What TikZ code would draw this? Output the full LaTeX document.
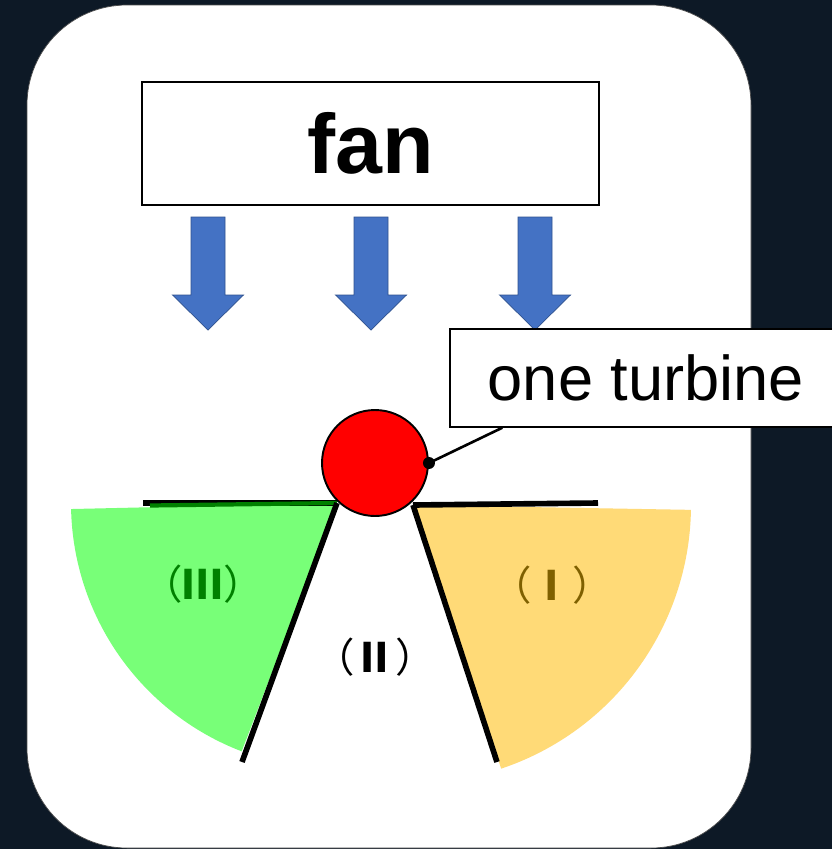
\documentclass[tikz,border=0pt]{standalone}
\usepackage{fontspec}
\setmainfont{Liberation Sans}
\newfontfamily\cjk{Noto Sans CJK JP}
\usetikzlibrary{positioning,calc}
\definecolor{NightBg}{RGB}{13,25,38}
\definecolor{FanBlue}{RGB}{68,114,196}
\definecolor{FanBlueEdge}{RGB}{47,82,143}
\definecolor{ZoneGreen}{RGB}{120,255,120}
\definecolor{ZoneGreenDark}{RGB}{0,128,0}
\definecolor{ZoneGold}{RGB}{255,218,119}
\definecolor{ZoneGoldDark}{RGB}{127,96,0}
\definecolor{TurbineRed}{RGB}{255,0,0}
\newcommand\zonenum[1]{（{\bfseries #1}）}
\tikzset{
  wall/.style={line width=3.2pt,draw=black},
  labelbox/.style={draw=black,fill=white,line width=0.8pt,inner sep=0pt},
  zonelabel/.style={font=\cjk\fontsize{23}{23}\selectfont},
  windarrow/.pic={\path[fill=FanBlue,draw=FanBlueEdge,line width=0.4pt]
    (-17,0) -- (-17,78) -- (-35.5,78) -- (0,113) -- (35.5,78) -- (17,78) -- (17,0) -- cycle;}
}
\begin{document}
\begin{tikzpicture}[x=0.02cm,y=-0.02cm]
  \fill[NightBg] (0,0) rectangle (832,849);
  \useasboundingbox (0,0) rectangle (832,849);
  \draw[fill=white,draw=gray!60!black,rounded corners=2cm] (27,5) rectangle (751,848);
  % fan and air flow
  \node[labelbox,line width=1.1pt,minimum width=9.14cm,minimum height=2.46cm,
    font=\fontsize{48}{48}\selectfont\bfseries] (fan) at (370.5,143.5) {fan};
  \pic at (208,217) {windarrow};
  \pic at (371,217) {windarrow};
  \pic at (535,217) {windarrow};
  % zones behind the turbine
  \coordinate (pivL) at (337,503);
  \coordinate (pivR) at (413,505);
  \fill[ZoneGreen] (pivL) -- ++(178.7:266) arc[start angle=178.7,end angle=111,radius=266] -- cycle;
  \fill[ZoneGold] (pivR) -- ++(1:278) arc[start angle=1,end angle=71.5,radius=278] -- cycle;
  \draw[wall] (143,503) -- (pivL);
  \draw[ZoneGreenDark,line width=2.4pt] (150,505.5) -- (pivL);
  \draw[wall] (pivL) -- (242,762);
  \draw[wall] (pivR) -- (598,503);
  \draw[wall] (pivR) -- (497,762);
  \node[zonelabel,text=ZoneGreenDark] (zone3) at (203,584) {\zonenum{Ⅲ}};
  \node[zonelabel] (zone2) at (375,657) {\zonenum{Ⅱ}};
  \node[zonelabel,text=ZoneGoldDark] (zone1) at (552,585) {\zonenum{Ⅰ}};
  % turbine and its label
  \node[circle,draw=black,fill=TurbineRed,line width=1.1pt,minimum size=2.12cm,inner sep=0pt] (turbine) at (375,463) {};
  \node[circle,fill=black,minimum size=0.24cm,inner sep=0pt] (dot) at (turbine.east) {};
  \node[labelbox,minimum width=7.84cm,minimum height=1.96cm,
    font=\fontsize{36}{36}\selectfont] (tag) at (646,378) {one turbine};
  \coordinate (tagfoot) at ($(tag.south west)+(53,0)$);
  \draw[line width=1.5pt] (dot.center) -- (tagfoot);
\end{tikzpicture}
\end{document}
